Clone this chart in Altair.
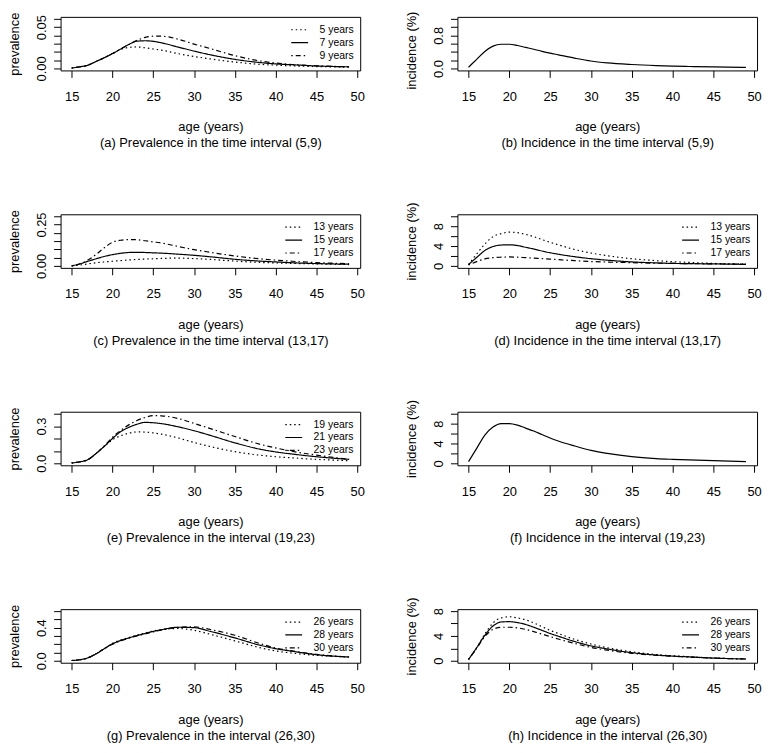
import altair as alt
import pandas as pd

AGES = [15, 16, 17, 18, 19, 20, 21, 22, 23, 24, 25, 26, 28, 30, 32, 35, 38, 40, 42, 45, 49]
X_TICKS = [15, 20, 25, 30, 35, 40, 45, 50]

# (a) prevalence, interval (5,9)
A_NAMES = ["5 years", "7 years", "9 years"]
A_5 = [0.0005, 0.002, 0.004, 0.0085, 0.013, 0.018, 0.023, 0.0255, 0.026, 0.025, 0.0235, 0.0222, 0.018, 0.0145, 0.0115, 0.0078, 0.005, 0.004, 0.0032, 0.0023, 0.0016]
A_7 = [0.0005, 0.002, 0.004, 0.0085, 0.013, 0.018, 0.0235, 0.029, 0.033, 0.0335, 0.0328, 0.031, 0.026, 0.021, 0.0165, 0.011, 0.0072, 0.0055, 0.0045, 0.003, 0.002]
A_9 = [0.0005, 0.002, 0.004, 0.0085, 0.013, 0.018, 0.0235, 0.029, 0.034, 0.0375, 0.039, 0.039, 0.0355, 0.0295, 0.024, 0.0155, 0.0092, 0.0065, 0.0048, 0.0032, 0.002]

# (b) incidence, interval (5,9)
B_INC = [0.03, 0.22, 0.41, 0.54, 0.585, 0.585, 0.555, 0.51, 0.465, 0.415, 0.37, 0.33, 0.25, 0.18, 0.135, 0.095, 0.068, 0.055, 0.047, 0.038, 0.025]

# (c) prevalence, interval (13,17)
C_NAMES = ["13 years", "15 years", "17 years"]
C_13 = [0.0, 0.005, 0.012, 0.019, 0.024, 0.028, 0.032, 0.036, 0.039, 0.041, 0.043, 0.045, 0.047, 0.044, 0.039, 0.029, 0.021, 0.018, 0.015, 0.012, 0.008]
C_15 = [0.0, 0.012, 0.028, 0.043, 0.057, 0.068, 0.076, 0.081, 0.082, 0.081, 0.079, 0.077, 0.071, 0.064, 0.055, 0.04, 0.029, 0.024, 0.019, 0.014, 0.01]
C_17 = [0.0, 0.012, 0.035, 0.07, 0.11, 0.143, 0.155, 0.159, 0.158, 0.152, 0.145, 0.138, 0.118, 0.098, 0.082, 0.06, 0.043, 0.035, 0.028, 0.02, 0.013]

# (d) incidence, interval (13,17)
D_13 = [0.26, 2.4, 4.4, 5.9, 6.5, 6.8, 6.7, 6.35, 5.9, 5.3, 4.75, 4.25, 3.3, 2.6, 2.05, 1.45, 1.05, 0.85, 0.7, 0.5, 0.4]
D_15 = [0.26, 1.7, 3.1, 3.9, 4.2, 4.25, 4.1, 3.75, 3.4, 3.0, 2.65, 2.35, 1.85, 1.45, 1.15, 0.8, 0.6, 0.5, 0.45, 0.4, 0.3]
D_17 = [0.2, 0.85, 1.4, 1.65, 1.75, 1.8, 1.75, 1.65, 1.55, 1.45, 1.35, 1.25, 1.05, 0.88, 0.77, 0.65, 0.55, 0.5, 0.46, 0.4, 0.35]

# (e) prevalence, interval (19,23)
E_NAMES = ["19 years", "21 years", "23 years"]
E_19 = [0.003, 0.012, 0.03, 0.08, 0.137, 0.19, 0.222, 0.243, 0.253, 0.252, 0.245, 0.235, 0.205, 0.168, 0.135, 0.094, 0.066, 0.053, 0.044, 0.032, 0.021]
E_21 = [0.003, 0.012, 0.03, 0.08, 0.137, 0.2, 0.255, 0.29, 0.315, 0.33, 0.327, 0.32, 0.295, 0.263, 0.225, 0.165, 0.115, 0.092, 0.075, 0.053, 0.032]
E_23 = [0.003, 0.012, 0.03, 0.08, 0.14, 0.21, 0.265, 0.31, 0.345, 0.37, 0.385, 0.383, 0.362, 0.322, 0.28, 0.216, 0.155, 0.124, 0.097, 0.066, 0.032]

# (f) incidence, interval (19,23)
F_INC = [0.33, 3.0, 5.7, 7.3, 8.0, 8.0, 7.7, 7.1, 6.5, 5.8, 5.1, 4.5, 3.5, 2.6, 2.0, 1.33, 0.95, 0.8, 0.68, 0.53, 0.33]

# (g) prevalence, interval (26,30)
G_NAMES = ["26 years", "28 years", "30 years"]
G_26 = [0.003, 0.012, 0.036, 0.085, 0.146, 0.21, 0.25, 0.28, 0.31, 0.335, 0.36, 0.378, 0.39, 0.368, 0.32, 0.24, 0.16, 0.118, 0.093, 0.065, 0.045]
G_28 = [0.003, 0.012, 0.036, 0.085, 0.146, 0.205, 0.245, 0.276, 0.305, 0.33, 0.355, 0.375, 0.405, 0.4, 0.355, 0.276, 0.19, 0.146, 0.115, 0.073, 0.045]
G_30 = [0.003, 0.012, 0.036, 0.085, 0.146, 0.2, 0.24, 0.272, 0.3, 0.325, 0.35, 0.37, 0.403, 0.41, 0.378, 0.308, 0.21, 0.154, 0.12, 0.077, 0.045]

# (h) incidence, interval (26,30)
H_26 = [0.2, 2.1, 4.3, 6.1, 6.9, 7.1, 6.9, 6.6, 6.1, 5.5, 4.9, 4.4, 3.45, 2.7, 2.1, 1.45, 1.0, 0.8, 0.65, 0.45, 0.28]
H_28 = [0.2, 2.1, 4.1, 5.6, 6.25, 6.3, 6.15, 5.85, 5.4, 4.9, 4.4, 3.95, 3.1, 2.4, 1.9, 1.3, 0.92, 0.75, 0.62, 0.43, 0.28]
H_30 = [0.2, 2.0, 3.9, 5.05, 5.4, 5.4, 5.3, 5.05, 4.7, 4.3, 3.9, 3.5, 2.8, 2.15, 1.7, 1.2, 0.88, 0.72, 0.6, 0.42, 0.28]

FONT = "Liberation Sans"
DASHES = [[1.5, 3], [1, 0], [1.5, 3, 5, 3]]


def axis_ticks(top, step):
    n = int(round(top / step))
    return [round(i * step, 4) for i in range(n + 1)]


def panel(names, series, ytitle, caption, yticks, shown, yfmt, title_y=None):
    rows = []
    for name, vals in zip(names, series):
        for a, v in zip(AGES, vals):
            rows.append({"age": a, "value": v, "series": name})
    df = pd.DataFrame(rows)
    lo, hi = yticks[0], yticks[-1]
    pad = 0.04 * (hi - lo)
    shown_list = ",".join("'%s'" % s for s in shown)
    x = alt.X(
        "age:Q",
        scale=alt.Scale(domain=[13.64, 50.36], nice=False, zero=False),
        axis=alt.Axis(values=X_TICKS, title=["age (years)", caption], labelFlush=False),
    )
    yaxis_kw = dict(
        values=yticks,
        format=yfmt,
        labelExpr="indexof([%s], datum.label) >= 0 ? datum.label : ''" % shown_list,
        title=ytitle,
        labelAngle=270,
        labelAlign="center",
        labelBaseline="bottom",
        labelOverlap=False,
        labelFlush=False,
    )
    if title_y is not None:
        yaxis_kw["titleY"] = title_y
    y = alt.Y(
        "value:Q",
        scale=alt.Scale(domain=[lo - pad, hi + pad], nice=False, zero=False),
        axis=alt.Axis(**yaxis_kw),
    )
    base = alt.Chart(df).mark_line(color="black", strokeWidth=1.2, interpolate="monotone", clip=True)
    if len(names) > 1:
        sd = alt.StrokeDash(
            "series:N",
            scale=alt.Scale(domain=names, range=DASHES),
            legend=alt.Legend(
                title=None,
                orient="top-right",
                offset=6,
                padding=0,
                labelFont=FONT,
                labelFontSize=10.5,
                labelColor="black",
                symbolType="M-1.36,0H1.36",
                symbolSize=156,
                symbolStrokeWidth=1.2,
                symbolStrokeColor="black",
                rowPadding=0,
                labelOffset=13,
            ),
        )
        ch = base.encode(x=x, y=y, strokeDash=sd, detail="series:N")
    else:
        ch = base.encode(x=x, y=y)
    return ch.properties(width=302, height=54)


TY = 33.5  # vertical position of the incidence titles inside their panel

pa = panel(A_NAMES, [A_5, A_7, A_9], "prevalence", "(a) Prevalence in the time interval (5,9)",
           axis_ticks(0.06, 0.01), ["0.00", "0.05"], ".2f")
pb = panel(["inc"], [B_INC], "incidence (%)", "(b) Incidence in the time interval (5,9)",
           axis_ticks(1.2, 0.2), ["0.0", "0.8"], ".1f", TY)
pc = panel(C_NAMES, [C_13, C_15, C_17], "prevalence", "(c) Prevalence in the time interval (13,17)",
           axis_ticks(0.30, 0.05), ["0.00", "0.25"], ".2f")
pd_ = panel(C_NAMES, [D_13, D_15, D_17], "incidence (%)", "(d) Incidence in the time interval (13,17)",
            axis_ticks(10, 2), ["0", "4", "8"], "d")
pe = panel(E_NAMES, [E_19, E_21, E_23], "prevalence", "(e) Prevalence in the interval (19,23)",
           axis_ticks(0.4, 0.1), ["0.0", "0.3"], ".1f")
pf = panel(["inc"], [F_INC], "incidence (%)", "(f) Incidence in the interval (19,23)",
           axis_ticks(10, 2), ["0", "4", "8"], "d")
pg = panel(G_NAMES, [G_26, G_28, G_30], "prevalence", "(g) Prevalence in the interval (26,30)",
           axis_ticks(0.6, 0.1), ["0.0", "0.4"], ".1f")
ph = panel(G_NAMES, [H_26, H_28, H_30], "incidence (%)", "(h) Incidence in the interval (26,30)",
           axis_ticks(8, 2), ["0", "4", "8"], "d")


def row(l, r):
    return (
        alt.hconcat(l, r, spacing=98, bounds="flush")
        .resolve_scale(strokeDash="independent")
        .resolve_legend(strokeDash="independent")
    )


chart = (
    alt.vconcat(row(pa, pb), row(pc, pd_), row(pe, pf), row(pg, ph), spacing=199, bounds="flush")
    .resolve_scale(strokeDash="independent")
    .resolve_legend(strokeDash="independent")
    .properties(padding={"left": 0, "top": -1, "right": 0, "bottom": 0}, background="white")
    .configure_view(stroke="black", strokeWidth=1)
    .configure_axis(
        domain=False,
        grid=False,
        ticks=True,
        tickColor="black",
        tickSize=7,
        tickWidth=1,
        labelFont=FONT,
        labelFontSize=13,
        labelColor="black",
        labelPadding=5,
        titleFont=FONT,
        titleFontSize=13,
        titleFontWeight="normal",
        titleColor="black",
        titleLineHeight=16,
    )
    .configure_axisX(labelPadding=13, titlePadding=18)
    .configure_axisY(titlePadding=14)
)

chart.save("out.html", embed_options={"renderer": "svg", "actions": False})
